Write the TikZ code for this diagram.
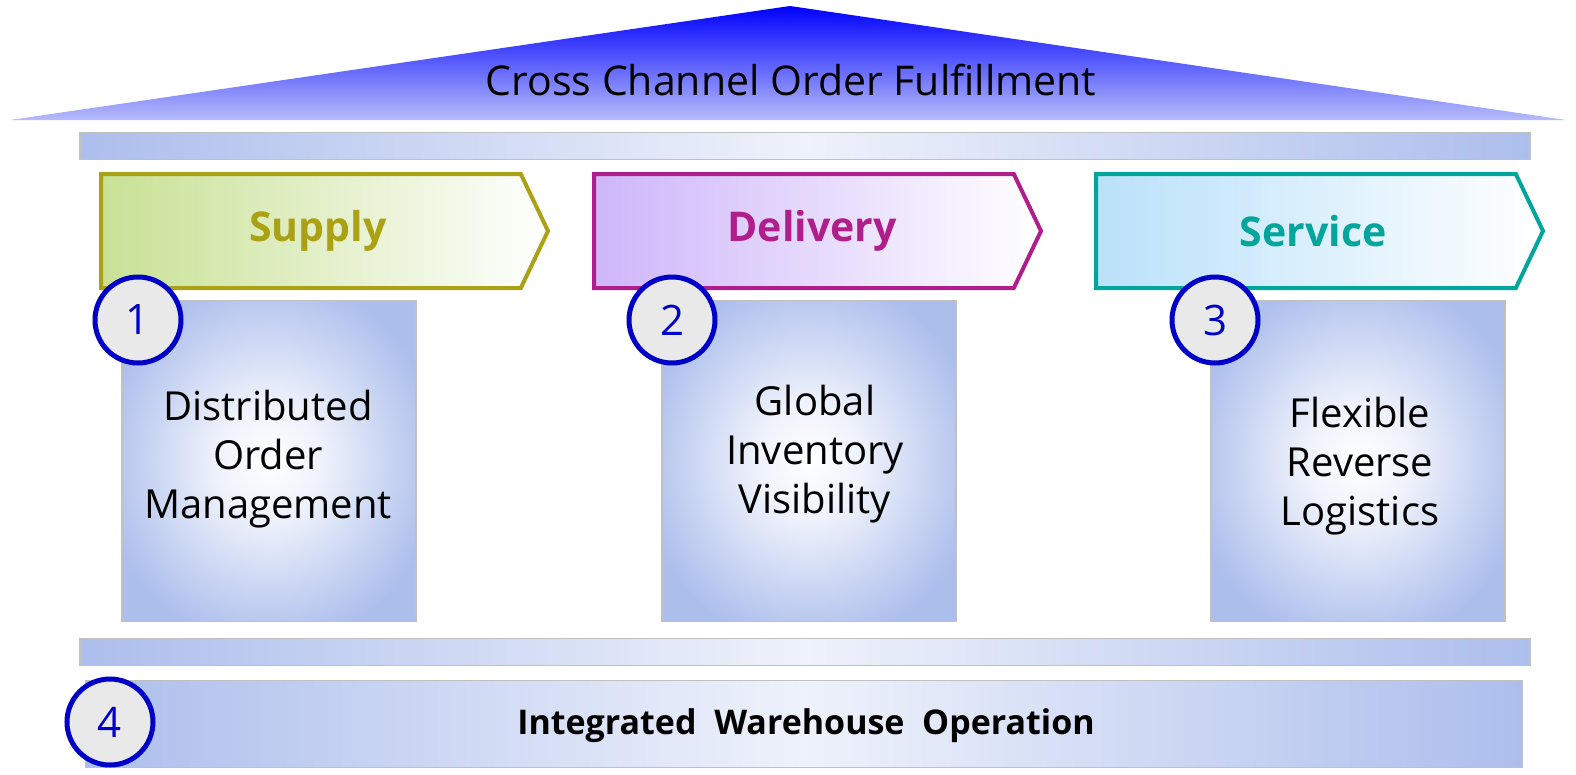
\documentclass[tikz,border=0pt]{standalone}
\usepackage{fontspec}
\setmainfont{Open Sans}
\usetikzlibrary{shapes.symbols}

\definecolor{roofblue}{RGB}{0,0,255}
\definecolor{roofpale}{RGB}{182,188,250}
\definecolor{barblue}{RGB}{172,190,236}
\definecolor{framegray}{RGB}{192,192,192}
\definecolor{supplyline}{RGB}{170,162,20}
\definecolor{supplyfill}{RGB}{200,225,148}
\definecolor{deliveryline}{RGB}{176,30,140}
\definecolor{deliveryfill}{RGB}{206,182,250}
\definecolor{serviceline}{RGB}{0,166,156}
\definecolor{servicefill}{RGB}{186,225,250}
\definecolor{numblue}{RGB}{0,0,200}
\definecolor{numfill}{RGB}{233,233,233}

\pgfdeclareradialshading{pillarshade}{\pgfpoint{0bp}{0bp}}{%
	color(0bp)=(white); color(9bp)=(white!80!barblue);
	color(29bp)=(barblue); color(50bp)=(barblue)}

\tikzset{
	bar/.style={draw=framegray, line width=1.5, left color=barblue,
		right color=barblue, middle color=white!80!barblue,
		minimum width=1450, minimum height=27, inner sep=0},
	chevron/.style={signal, signal to=east, signal pointer angle=129,
		line width=4, minimum width=447, minimum height=114, inner sep=0,
		anchor=west, right color=white},
	chevlabel/.style={font=\fontsize{41}{46}\selectfont\bfseries},
	pillar/.style={rectangle, draw=framegray, line width=1.5,
		shading=pillarshade, minimum width=294, minimum height=321},
	pillartext/.style={align=center, font=\fontsize{40}{49}\selectfont},
	numcirc/.style={circle, draw=numblue, fill=numfill, line width=5,
		minimum size=86, inner sep=0, text=numblue,
		font=\fontsize{42}{46}\selectfont}
}

\begin{document}
\begin{tikzpicture}[x=1pt,y=-1pt]
	\useasboundingbox (0,0) rectangle (1576,774);
	% roof
	\coordinate (roofL) at (10,120);
	\coordinate (roofT) at (790,6);
	\coordinate (roofR) at (1566,120);
	\shade[top color=roofblue, bottom color=roofpale] (roofL) -- (roofT) -- (roofR) -- cycle;
	\node[font=\fontsize{41}{46}\selectfont] (title) at (791,80) {Cross Channel Order Fulfillment};
	\node[bar] (topbar) at (805,146) {};

	% three chevrons
	\node[chevron, draw=supplyline, left color=supplyfill] (supply) at (99,231) {};
	\node[chevron, draw=deliveryline, left color=deliveryfill] (delivery) at (592,231) {};
	\node[chevron, draw=serviceline, left color=servicefill] (service) at (1094,231) {};
	\node[chevlabel, text=supplyline] (supplytext) at (318,231) {Supply};
	\node[chevlabel, text=deliveryline] (deliverytext) at (812,231) {Delivery};
	\node[chevlabel, text=serviceline] (servicetext) at (1313,231) {Service};

	% pillars
	\node[pillar] (dom) at (269,461) {};
	\node[pillar] (giv) at (809,461) {};
	\node[pillar] (frl) at (1358,461) {};
	\node[pillartext] (domtext) at (268,459) {Distributed\\Order\\Management};
	\node[pillartext] (givtext) at (815,454) {Global\\Inventory\\Visibility};
	\node[pillartext] (frltext) at (1360,466) {Flexible\\Reverse\\Logistics};

	\node[numcirc] (n1) at (138,320) {1};
	\node[numcirc] (n2) at (672,320) {2};
	\node[numcirc] (n3) at (1215,320) {3};

	% foundation
	\node[bar] (botbar) at (805,652) {};
	\node[bar, minimum width=1437, minimum height=87] (base) at (804,724) {};
	\node[font=\fontsize{34}{38}\selectfont\bfseries] (basetext) at (806,726) {Integrated\ \ Warehouse\ \ Operation};
	\node[numcirc] (n4) at (110,722) {4};
\end{tikzpicture}
\end{document}
